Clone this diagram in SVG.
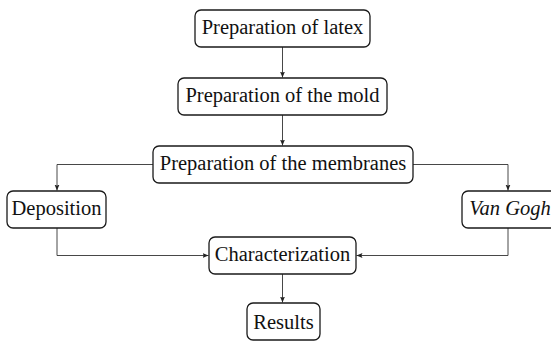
<svg xmlns="http://www.w3.org/2000/svg" width="551" height="341" viewBox="0 0 551 341">
  <style>
    .box { fill: #ffffff; stroke: #1a1a1a; stroke-width: 1.3; }
    .lbl { font-family: "Liberation Serif", "Times New Roman", serif; font-size: 20.5px; fill: #111111; text-anchor: middle; }
    .it { font-style: italic; }
    .conn { fill: none; stroke: #333333; stroke-width: 0.9; }
  </style>
  <defs>
    <marker id="arr" markerUnits="userSpaceOnUse" markerWidth="8" markerHeight="8" refX="6" refY="4" orient="auto">
      <path d="M0,1.5 L6,4 L0,6.5 L1.2,4 Z" fill="#222222"/>
    </marker>
  </defs>
  <rect width="551" height="341" fill="#ffffff"/>

  <g id="connectors">
    <path class="conn" d="M282.5,47 L282.5,77.5" marker-end="url(#arr)"/>
    <path class="conn" d="M282.5,115 L282.5,145.5" marker-end="url(#arr)"/>
    <path class="conn" d="M153,164.5 L57,164.5 L57,190.5" marker-end="url(#arr)"/>
    <path class="conn" d="M413,164.5 L508,164.5 L508,190.5" marker-end="url(#arr)"/>
    <path class="conn" d="M57,228 L57,255.5 L208.5,255.5" marker-end="url(#arr)"/>
    <path class="conn" d="M508,228 L508,255.5 L356.5,255.5" marker-end="url(#arr)"/>
    <path class="conn" d="M282.5,274 L282.5,302.5" marker-end="url(#arr)"/>
  </g>

  <g id="node-latex">
    <rect class="box" x="195" y="10" width="175" height="37" rx="6"/>
    <text class="lbl" x="282.5" y="34">Preparation of latex</text>
  </g>
  <g id="node-mold">
    <rect class="box" x="178" y="78" width="209" height="37" rx="6"/>
    <text class="lbl" x="282.5" y="102">Preparation of the mold</text>
  </g>
  <g id="node-membranes">
    <rect class="box" x="153" y="146" width="260" height="37" rx="6"/>
    <text class="lbl" x="283" y="170">Preparation of the membranes</text>
  </g>
  <g id="node-deposition">
    <rect class="box" x="7" y="191" width="99" height="37" rx="6"/>
    <text class="lbl" x="56.5" y="215">Deposition</text>
  </g>
  <g id="node-vangogh">
    <rect class="box" x="462" y="191" width="96" height="37" rx="6"/>
    <text class="lbl it" x="510" y="215">Van Gogh</text>
  </g>
  <g id="node-characterization">
    <rect class="box" x="209" y="237" width="147" height="37" rx="6"/>
    <text class="lbl" x="282.5" y="261">Characterization</text>
  </g>
  <g id="node-results">
    <rect class="box" x="247" y="303" width="73" height="37" rx="6"/>
    <text class="lbl" x="283.5" y="329">Results</text>
  </g>
</svg>
